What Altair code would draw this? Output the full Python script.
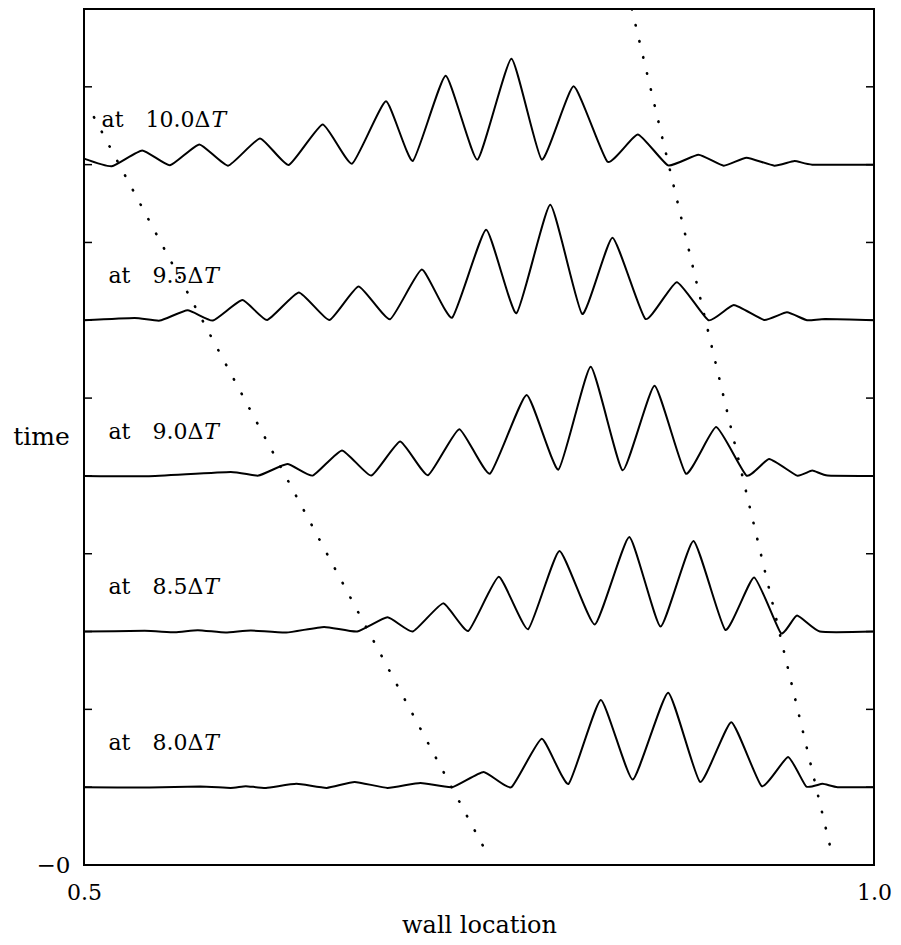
import altair as alt
import pandas as pd

# ---- wave snapshots: x (wall location) and height above each snapshot's baseline ----
x_100 = [0.5000, 0.5176, 0.5368, 0.5544, 0.5730, 0.5912, 0.6114, 0.6296, 0.6511, 0.6697,
         0.6911, 0.7081, 0.7289, 0.7490, 0.7705, 0.7897, 0.8099, 0.8313, 0.8505, 0.8697,
         0.8889, 0.9049, 0.9193, 0.9369, 0.9497, 0.9609, 1.0000]
a_100 = [0.077, -0.021, 0.183, -0.009, 0.260, -0.013, 0.337, -0.004, 0.516, 0.013,
         0.814, 0.047, 1.142, 0.064, 1.360, 0.064, 1.006, 0.038, 0.388, -0.009,
         0.128, -0.013, 0.090, -0.013, 0.047, 0.000, 0.000]

x_95 = [0.5000, 0.5320, 0.5480, 0.5656, 0.5816, 0.6002, 0.6159, 0.6360, 0.6553, 0.6738,
        0.6937, 0.7138, 0.7330, 0.7545, 0.7737, 0.7951, 0.8153, 0.8345, 0.8553, 0.8752,
        0.8953, 0.9113, 0.9305, 0.9449, 0.9577, 0.9690, 1.0000]
a_95 = [0.000, 0.030, -0.004, 0.128, -0.004, 0.260, 0.004, 0.358, 0.004, 0.435,
        0.013, 0.652, 0.034, 1.164, 0.090, 1.483, 0.081, 1.061, 0.017, 0.490,
        0.000, 0.196, 0.004, 0.102, 0.000, 0.017, 0.000]

x_90 = [0.5000, 0.5400, 0.5928, 0.6104, 0.6287, 0.6447, 0.6633, 0.6818, 0.7001, 0.7177,
        0.7375, 0.7570, 0.7801, 0.8003, 0.8207, 0.8409, 0.8611, 0.8809, 0.9001, 0.9193,
        0.9337, 0.9513, 0.9609, 0.9706, 1.0000]
a_90 = [0.000, -0.004, 0.051, 0.004, 0.153, 0.004, 0.328, 0.004, 0.443, 0.009,
        0.601, 0.030, 1.040, 0.081, 1.402, 0.072, 1.159, 0.030, 0.627, 0.004,
        0.217, 0.004, 0.068, 0.004, 0.000]

x_85 = [0.5000, 0.5384, 0.5576, 0.5720, 0.5896, 0.6056, 0.6280, 0.6520, 0.6729, 0.6921,
        0.7081, 0.7273, 0.7433, 0.7625, 0.7811, 0.8009, 0.8233, 0.8451, 0.8649, 0.8857,
        0.9059, 0.9241, 0.9411, 0.9513, 0.9657, 1.0000]
a_85 = [0.000, 0.009, -0.009, 0.017, -0.013, 0.013, -0.013, 0.060, 0.000, 0.183,
        0.000, 0.362, 0.009, 0.703, 0.030, 1.036, 0.090, 1.215, 0.064, 1.164,
        0.021, 0.695, -0.021, 0.205, 0.000, 0.000]

x_80 = [0.5000, 0.5416, 0.5736, 0.5928, 0.6024, 0.6152, 0.6344, 0.6536, 0.6713, 0.6921,
        0.7129, 0.7330, 0.7529, 0.7705, 0.7897, 0.8067, 0.8271, 0.8473, 0.8697, 0.8899,
        0.9097, 0.9289, 0.9456, 0.9571, 0.9674, 0.9770, 1.0000]
a_80 = [0.000, -0.004, 0.009, -0.009, 0.013, -0.009, 0.043, -0.009, 0.068, -0.009,
        0.055, 0.000, 0.196, 0.000, 0.622, 0.043, 1.121, 0.098, 1.215, 0.068,
        0.835, 0.013, 0.388, 0.009, 0.043, 0.000, 0.000]

curve_names = ["10.0", "9.5", "9.0", "8.5", "8.0"]
curve_base = [9, 7, 5, 3, 1]
curve_x = [x_100, x_95, x_90, x_85, x_80]
curve_a = [a_100, a_95, a_90, a_85, a_80]

# labels
label_main = ["at\u200310.0\u0394", "at\u20039.5\u0394", "at\u20039.0\u0394",
              "at\u20038.5\u0394", "at\u20038.0\u0394"]
label_split_x = [0.5800, 0.5755, 0.5755, 0.5755, 0.5755]
label_rise = 0.57

# dotted guide lines (start, end)
dot_left_x = [0.5063, 0.7566]
dot_left_y = [9.61, 0.09]
dot_right_x = [0.8467, 0.9735]
dot_right_y = [11.0, 0.13]

tick_values = list(range(0, 12))

FONT = "DejaVu Serif"
W, H = 790, 856

rows = []
for name, base, xs, amps in zip(curve_names, curve_base, curve_x, curve_a):
    for i, (xv, av) in enumerate(zip(xs, amps)):
        rows.append({"curve": name, "order": i, "x": xv, "y": base + av})
df_curves = pd.DataFrame(rows)

df_labels = pd.DataFrame({
    "main": label_main,
    "x": label_split_x,
    "y": [b + label_rise for b in curve_base],
})

df_dots = pd.DataFrame({
    "line": ["L", "L", "R", "R"],
    "order": [0, 1, 0, 1],
    "x": dot_left_x + dot_right_x,
    "y": dot_left_y + dot_right_y,
})

df_ticks = pd.DataFrame({"x": [0.5] * len(tick_values), "y": tick_values})

xscale = alt.Scale(domain=[0.5, 1.0], nice=False, zero=False)
yscale = alt.Scale(domain=[0, 11], nice=False, zero=False)

xaxis = alt.Axis(
    values=[0.5, 1.0], format=".1f", ticks=False, tickSize=0, domain=False,
    grid=False, labelFlush=False, labelFontSize=22, labelPadding=17,
    labelFont=FONT, labelColor="black",
    title="wall location", titleFont=FONT, titleFontSize=24,
    titleFontWeight="normal", titleColor="black", titleY=60,
    titleBaseline="middle")
yaxis = alt.Axis(
    values=[0], labelExpr="'\u22120'", ticks=False, tickSize=0, domain=False,
    grid=False, labelFontSize=23, labelPadding=14, labelFont=FONT,
    labelColor="black",
    title="time", titleAngle=0, titleX=-43, titleY=427, titleAlign="center",
    titleBaseline="middle", titleFont=FONT, titleFontSize=25,
    titleFontWeight="normal", titleColor="black")

X = alt.X("x:Q", scale=xscale, axis=xaxis, title="wall location")
Y = alt.Y("y:Q", scale=yscale, axis=yaxis, title="time")

waves = alt.Chart(df_curves).mark_line(
    interpolate="cardinal", tension=0.55, color="black", strokeWidth=2,
    strokeJoin="round"
).encode(x=X, y=Y, detail="curve:N", order="order:Q")

dots = alt.Chart(df_dots).mark_line(
    color="black", strokeWidth=2.6, strokeDash=[0.5, 16], strokeCap="round"
).encode(x=X, y=Y, detail="line:N", order="order:Q")

labels_main = alt.Chart(df_labels).mark_text(
    align="right", baseline="middle", font=FONT, fontSize=22, color="black"
).encode(x=X, y=Y, text="main:N")

labels_t = alt.Chart(df_labels).mark_text(
    align="left", baseline="middle", font=FONT, fontSize=22, fontStyle="italic",
    color="black", dx=1
).encode(x=X, y=Y, text=alt.value("T"))

ticks_left = alt.Chart(df_ticks).mark_rule(color="black", strokeWidth=1.5).encode(
    x=alt.value(0), x2=alt.value(8), y=Y,
)
ticks_right = alt.Chart(df_ticks).mark_rule(color="black", strokeWidth=1.5).encode(
    x=alt.value(W - 8), x2=alt.value(W), y=Y,
)

chart = alt.layer(
    waves, dots, labels_main, labels_t, ticks_left, ticks_right
).properties(
    width=W, height=H,
    autosize=alt.AutoSizeParams(type="none"),
    padding={"left": 76, "top": 1, "right": 19, "bottom": 72},
    background="white",
).configure_view(
    stroke="black", strokeWidth=2
)

chart.save("out.html", embed_options={"renderer": "svg", "actions": False})
